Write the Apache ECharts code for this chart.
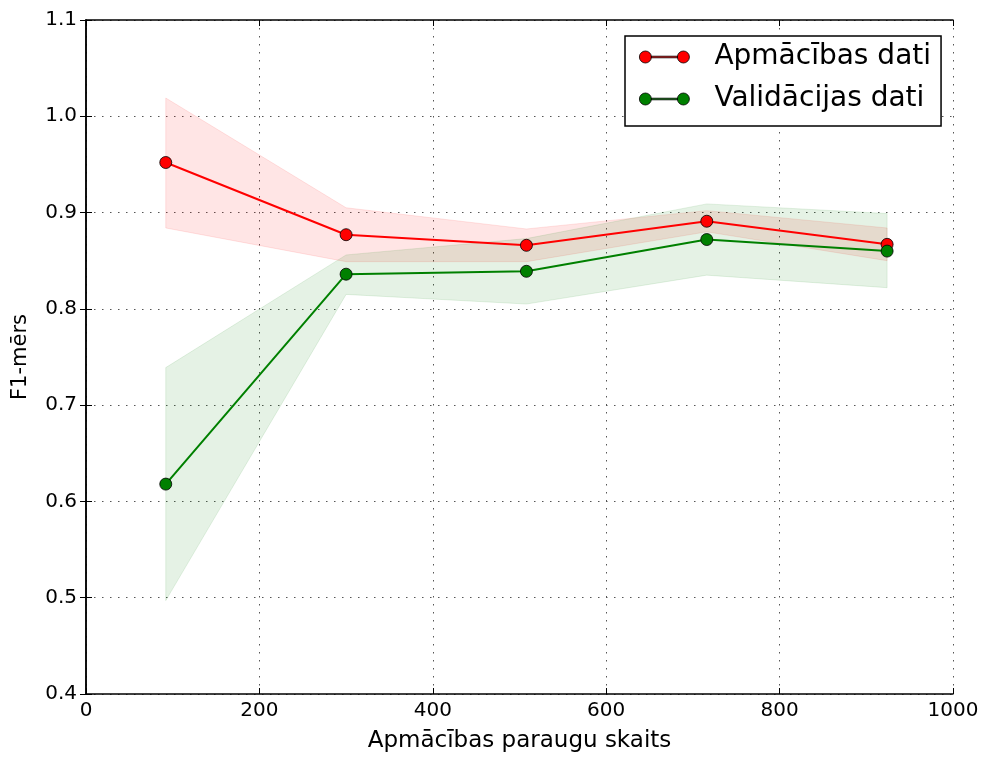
<!DOCTYPE html>
<html>
<head>
<meta charset="utf-8">
<script src="https://cdn.jsdelivr.net/npm/echarts@6/dist/echarts.min.js"></script>
<style>
  html, body { margin: 0; padding: 0; background: #fff; }
  #chart { width: 987px; height: 758px; }
</style>
</head>
<body>
<div id="chart"></div>
<script>
// dati
var trainSizes = [92, 300, 508, 716, 924];
var trainMean = [0.952, 0.877, 0.866, 0.891, 0.867];
var trainUpper = [1.019, 0.905, 0.883, 0.902, 0.884];
var trainLower = [0.884, 0.849, 0.849, 0.880, 0.850];
var validMean = [0.618, 0.836, 0.839, 0.872, 0.860];
var validUpper = [0.739, 0.856, 0.873, 0.909, 0.899];
var validLower = [0.497, 0.815, 0.805, 0.835, 0.822];
var xTicks = [0, 200, 400, 600, 800, 1000];
var yTicks = [0.4, 0.5, 0.6, 0.7, 0.8, 0.9, 1.0, 1.1];

(function () {
    var myChart = echarts.init(document.getElementById('chart'));

    function pairs(xs, ys) {
        return xs.map(function (x, i) { return [x, ys[i]]; });
    }

    // josla starp apakšējo un augšējo robežu
    function band(upper, lower, fill, edge) {
        return {
            type: 'custom',
            silent: true,
            z: 1,
            data: [[trainSizes[0], upper[0]]],
            renderItem: function (params, api) {
                var pts = [];
                for (var i = 0; i < trainSizes.length; i++) {
                    pts.push(api.coord([trainSizes[i], upper[i]]));
                }
                for (var j = trainSizes.length - 1; j >= 0; j--) {
                    pts.push(api.coord([trainSizes[j], lower[j]]));
                }
                return {
                    type: 'polygon',
                    shape: { points: pts },
                    style: { fill: fill, stroke: edge, lineWidth: 1 }
                };
            }
        };
    }

    var font = 'DejaVu Sans';
    var legendIcon = 'path://M0,6a6,6 0 1,0 12,0a6,6 0 1,0 -12,0Z' +
        'M38,6a6,6 0 1,0 12,0a6,6 0 1,0 -12,0Z' +
        'M12,5.2L38,5.2L38,6.8L12,6.8Z';
    var gridLine = { color: '#555', type: [1.5, 6.5], width: 1 };

    var option = {
        animation: false,
        backgroundColor: '#fff',
        grid: { left: 86, right: 34, top: 20, bottom: 63, containLabel: false },
        legend: {
            left: 625,
            top: 36,
            orient: 'vertical',
            padding: [5, 10, 11, 14],
            itemGap: 10,
            itemWidth: 50,
            itemHeight: 12,
            borderColor: '#000',
            borderWidth: 1.5,
            backgroundColor: '#fff',
            borderRadius: 0,
            textStyle: { fontFamily: font, fontSize: 28, color: '#000', lineHeight: 32, padding: [0, 0, 0, 20] },
            data: [
                { name: 'Apmācības dati', icon: legendIcon, itemStyle: { color: '#ff0000', borderColor: '#000', borderWidth: 0.8 } },
                { name: 'Validācijas dati', icon: legendIcon, itemStyle: { color: '#008000', borderColor: '#000', borderWidth: 0.8 } }
            ]
        },
        xAxis: [
            {
                type: 'value',
                min: xTicks[0],
                max: xTicks[xTicks.length - 1],
                interval: 200,
                name: 'Apmācības paraugu skaits',
                nameLocation: 'middle',
                nameGap: 36,
                nameTextStyle: { fontFamily: font, fontSize: 23, color: '#000' },
                axisLine: { show: true, lineStyle: { color: '#000', width: 1.5 } },
                axisTick: { show: true, inside: true, length: 6, lineStyle: { color: '#000' } },
                axisLabel: {
                    fontFamily: font, fontSize: 20, color: '#000', margin: 7,
                    formatter: function (v) { return String(v); }
                },
                splitLine: { show: true, lineStyle: gridLine }
            },
            {
                type: 'value',
                position: 'top',
                min: xTicks[0],
                max: xTicks[xTicks.length - 1],
                interval: 200,
                axisLine: { show: true, lineStyle: { color: '#000', width: 1.5 } },
                axisTick: { show: true, inside: true, length: 6, lineStyle: { color: '#000' } },
                axisLabel: { show: false },
                splitLine: { show: false }
            }
        ],
        yAxis: [
            {
                type: 'value',
                min: yTicks[0],
                max: yTicks[yTicks.length - 1],
                interval: 0.1,
                name: 'F1-mērs',
                nameLocation: 'middle',
                nameGap: 55,
                nameTextStyle: { fontFamily: font, fontSize: 21, color: '#000' },
                axisLine: { show: true, lineStyle: { color: '#000', width: 1.5 } },
                axisTick: { show: true, inside: true, length: 6, lineStyle: { color: '#000' } },
                axisLabel: {
                    fontFamily: font, fontSize: 20, color: '#000', margin: 9,
                    formatter: function (v) { return v.toFixed(1); }
                },
                splitLine: { show: true, lineStyle: gridLine }
            },
            {
                type: 'value',
                position: 'right',
                min: yTicks[0],
                max: yTicks[yTicks.length - 1],
                interval: 0.1,
                axisLine: { show: true, lineStyle: { color: '#000', width: 1.5 } },
                axisTick: { show: true, inside: true, length: 6, lineStyle: { color: '#000' } },
                axisLabel: { show: false },
                splitLine: { show: false }
            }
        ],
        series: [
            band(trainUpper, trainLower, 'rgba(255,0,0,0.1)', 'rgba(255,0,0,0.1)'),
            band(validUpper, validLower, 'rgba(0,128,0,0.1)', 'rgba(0,128,0,0.1)'),
            {
                name: 'Apmācības dati',
                type: 'line',
                z: 3,
                data: pairs(trainSizes, trainMean),
                symbol: 'circle',
                symbolSize: 12,
                lineStyle: { color: '#ff0000', width: 2 },
                itemStyle: { color: '#ff0000', borderColor: '#000', borderWidth: 0.8 }
            },
            {
                name: 'Validācijas dati',
                type: 'line',
                z: 3,
                data: pairs(trainSizes, validMean),
                symbol: 'circle',
                symbolSize: 12,
                lineStyle: { color: '#008000', width: 2 },
                itemStyle: { color: '#008000', borderColor: '#000', borderWidth: 0.8 }
            }
        ]
    };

    myChart.setOption(option);
})();
</script>
</body>
</html>
